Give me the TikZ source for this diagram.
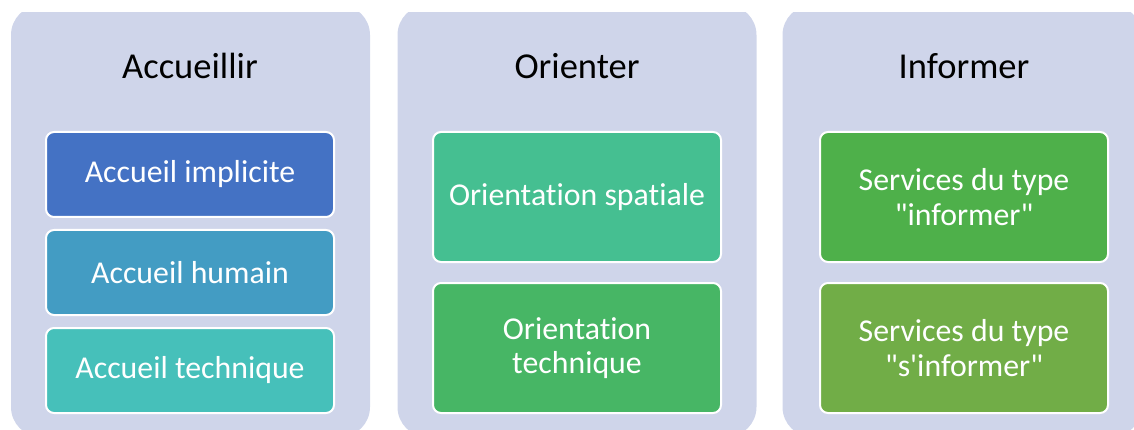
\documentclass[tikz,border=0pt]{standalone}
\usepackage{fontspec}
\setmainfont{Carlito}[Ligatures={NoCommon}]
\usetikzlibrary{positioning}
\definecolor{panelbg}{HTML}{CFD5EA}
\definecolor{blueA}{HTML}{4472C4}
\definecolor{blueB}{HTML}{439CC3}
\definecolor{tealC}{HTML}{46C0BA}
\definecolor{greenD}{HTML}{45BF91}
\definecolor{greenE}{HTML}{47B665}
\definecolor{greenF}{HTML}{4EB04A}
\definecolor{greenG}{HTML}{71AD47}

\begin{document}
\begin{tikzpicture}[x=1pt, y=-1pt,
    node distance=11pt,
    panel/.style={rectangle, rounded corners=30pt, fill=panelbg, inner sep=0pt,
                  minimum width=359pt, minimum height=432pt},
    title/.style={font=\fontsize{36.5}{40}\selectfont, inner sep=0pt},
    item/.style={rectangle, rounded corners=8pt, draw=white, line width=2pt,
                 text=white, align=center, inner sep=0pt, minimum width=288pt,
                 font=\fontsize{31.8}{34.5}\selectfont},
    small/.style={item, minimum height=85pt},
    tall/.style={item, minimum height=130pt}]
    \useasboundingbox (0,0) rectangle (1134,430);
    \clip (0,13) rectangle (1134,430);
    % background columns
    \node[panel] (p1) at (190.5,221) {};
    \node[panel] (p2) at (577,221) {};
    \node[panel] (p3) at (962,221) {};
    % column headings
    \node[title] (t1) at (190,66) {Accueillir};
    \node[title] (t2) at (577,66) {Orienter};
    \node[title] (t3) at (964,66) {Informer};
    % first column
    \node[small, fill=blueA] (a1) at (190,174.5) {Accueil implicite};
    \node[small, fill=blueB, below=of a1] (a2) {Accueil humain};
    \node[small, fill=tealC, below=of a2] (a3) {Accueil technique};
    % second column
    \node[tall, fill=greenD] (o1) at (577,197) {Orientation spatiale};
    \node[tall, fill=greenE, below=19pt of o1] (o2) {Orientation\\technique};
    % third column
    \node[tall, fill=greenF] (i1) at (964,197)
        {Services du type\\\textquotedbl informer\textquotedbl};
    \node[tall, fill=greenG, below=19pt of i1] (i2)
        {Services du type\\\textquotedbl s\textquotesingle informer\textquotedbl};
\end{tikzpicture}
\end{document}
